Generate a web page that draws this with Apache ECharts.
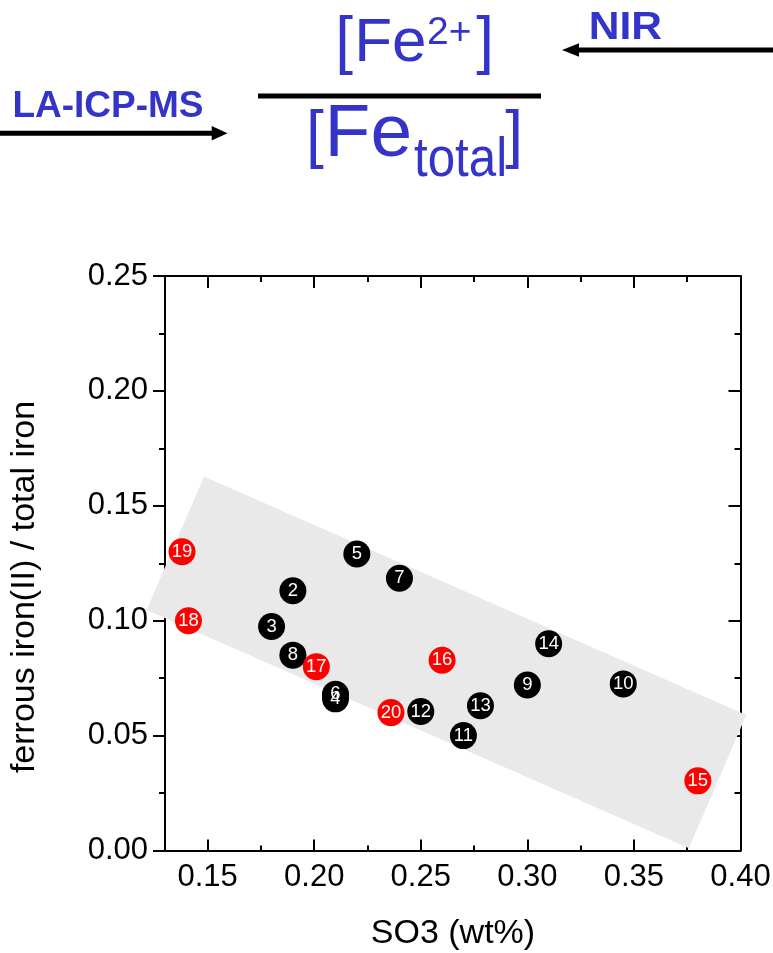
<!DOCTYPE html>
<html>
<head>
<meta charset="utf-8">
<script src="https://cdn.jsdelivr.net/npm/echarts@6.0.0/dist/echarts.min.js"></script>
<style>
  html, body { margin: 0; padding: 0; background: #fff; }
  #chart { width: 773px; height: 953px; }
</style>
</head>
<body>
<div id="chart"></div>
<script>
  // samples measured by LA-ICP-MS (black) and NIR (red)
  var blackIds = ['2', '3', '4', '5', '6', '7', '8', '9', '10', '11', '12', '13', '14']
  var blackSO3 = [0.19, 0.18, 0.21, 0.22, 0.21, 0.24, 0.19, 0.30, 0.345, 0.27, 0.25, 0.278, 0.31]
  var blackRatio = [0.113, 0.0975, 0.066, 0.129, 0.068, 0.1185, 0.085, 0.072, 0.0725, 0.050, 0.0605, 0.063, 0.090]

  var redIds = ['15', '16', '17', '18', '19', '20']
  var redSO3 = [0.38, 0.26, 0.201, 0.141, 0.138, 0.236]
  var redRatio = [0.0303, 0.0828, 0.080, 0.100, 0.130, 0.060]

  // grey trend band corners (data units)
  var bandSO3 = [0.1483, 0.4027, 0.3758, 0.1214]
  var bandRatio = [0.1628, 0.0590, 0.001, 0.1047]

  var xMajor = [0.15, 0.20, 0.25, 0.30, 0.35, 0.40]
  var xMinor = [0.175, 0.225, 0.275, 0.325, 0.375]

  var FONT = '"Liberation Sans", Arial, Helvetica, sans-serif'
  var BLUE = '#3434c8'

  function xPart(position, ticks, len, showLine, showLabel) {
    return {
      type: 'value',
      position: position,
      min: 0.13,
      max: 0.40,
      axisLine: {show: showLine, onZero: false, lineStyle: {color: '#000', width: 2}},
      axisTick: {show: true, inside: true, length: len, customValues: ticks, lineStyle: {color: '#000', width: 2}},
      axisLabel: {
        show: showLabel,
        customValues: ticks,
        formatter: function (v) { return v.toFixed(2) },
        color: '#000',
        fontSize: 31,
        fontFamily: FONT,
        margin: 11
      },
      splitLine: {show: false}
    }
  }

  function yPart(position, inside, showLabel) {
    return {
      type: 'value',
      position: position,
      min: 0,
      max: 0.25,
      interval: 0.05,
      axisLine: {show: true, onZero: false, lineStyle: {color: '#000', width: 2}},
      axisTick: {show: true, inside: inside, length: 12, lineStyle: {color: '#000', width: 2}},
      minorTick: {show: true, splitNumber: 2, length: 6, lineStyle: {color: '#000', width: 2}},
      axisLabel: {
        show: showLabel,
        formatter: function (v) { return v.toFixed(2) },
        color: '#000',
        fontSize: 31,
        fontFamily: FONT,
        margin: 17
      },
      splitLine: {show: false},
      minorSplitLine: {show: false}
    }
  }

  function points(ids, xs, ys) {
    return ids.map(function (id, i) {
      return {name: id, value: [xs[i], ys[i]]}
    })
  }

  function txt(x, y, text, size, opts) {
    opts = opts || {}
    return {
      type: 'text',
      x: x,
      y: y,
      silent: true,
      rotation: opts.rotation || 0,
      scaleX: opts.scaleX || 1,
      style: {
        text: text,
        fill: opts.fill || BLUE,
        fontSize: size,
        fontFamily: FONT,
        fontWeight: opts.bold ? 'bold' : 'normal',
        textAlign: opts.align || 'left',
        textVerticalAlign: 'middle'
      }
    }
  }

  var chart = echarts.init(document.getElementById('chart'))
  chart.setOption({
    animation: false,
    backgroundColor: '#fff',
    grid: {left: 165, right: 32.5, top: 276, bottom: 102.5, outerBoundsMode: 'none', containLabel: false},
    xAxis: [
      xPart('bottom', xMajor, 11, true, true),
      xPart('bottom', xMinor, 5, false, false),
      xPart('top', xMajor, 12, true, false),
      xPart('top', xMinor, 6, false, false)
    ],
    yAxis: [
      yPart('left', false, true),
      yPart('right', true, false)
    ],
    graphic: [
      // fraction
      txt(335.3, 44.5, '[', 64),
      txt(354.2, 44.1, 'Fe', 62),
      txt(427, 33.2, '2+', 39),
      txt(494, 44.5, ']', 64, {align: 'right'}),
      {type: 'rect', silent: true, shape: {x: 258, y: 93.5, width: 283, height: 5}, style: {fill: '#000'}},
      txt(306, 138.8, '[', 64),
      txt(324.6, 135.8, 'Fe', 75),
      txt(414, 160.9, 'total', 56, {scaleX: 0.88}),
      txt(523, 138.8, ']', 64, {align: 'right'}),
      // methods and arrows
      txt(588.7, 28.2, 'NIR', 38, {bold: true, scaleX: 1.12}),
      {type: 'line', silent: true, shape: {x1: 576, y1: 50, x2: 773, y2: 50}, style: {stroke: '#000', lineWidth: 5}},
      {type: 'polygon', silent: true, shape: {points: [[562, 50], [579, 43.3], [579, 56.7]]}, style: {fill: '#000'}},
      txt(12.4, 106.8, 'LA-ICP-MS', 37, {bold: true}),
      {type: 'line', silent: true, shape: {x1: 0, y1: 133.3, x2: 214, y2: 133.3}, style: {stroke: '#000', lineWidth: 5}},
      {type: 'polygon', silent: true, shape: {points: [[227.5, 133.3], [211.7, 126], [211.7, 140.6]]}, style: {fill: '#000'}},
      // axis names
      txt(25, 587, 'ferrous iron(II) / total iron', 34, {fill: '#000', align: 'center', rotation: Math.PI / 2}),
      txt(453, 934, 'SO3 (wt%)', 34, {fill: '#000', align: 'center'})
    ],
    series: [
      {
        type: 'custom',
        silent: true,
        clip: false,
        z: 1,
        data: [[bandSO3[0], bandRatio[0]]],
        renderItem: function (params, api) {
          var pts = bandSO3.map(function (x, i) { return api.coord([x, bandRatio[i]]) })
          return {type: 'polygon', shape: {points: pts}, style: {fill: '#e9e9e9'}}
        }
      },
      {
        type: 'scatter',
        z: 2,
        symbolSize: 27,
        itemStyle: {color: '#000', opacity: 1},
        label: {show: true, position: 'inside', formatter: '{b}', color: '#fff', fontSize: 18.5, fontFamily: FONT},
        emphasis: {disabled: true},
        data: points(blackIds, blackSO3, blackRatio)
      },
      {
        type: 'scatter',
        z: 3,
        symbolSize: 27,
        itemStyle: {color: '#ff0000', opacity: 1},
        label: {show: true, position: 'inside', formatter: '{b}', color: '#fff', fontSize: 18.5, fontFamily: FONT},
        emphasis: {disabled: true},
        data: points(redIds, redSO3, redRatio)
      }
    ]
  })
</script>
</body>
</html>
